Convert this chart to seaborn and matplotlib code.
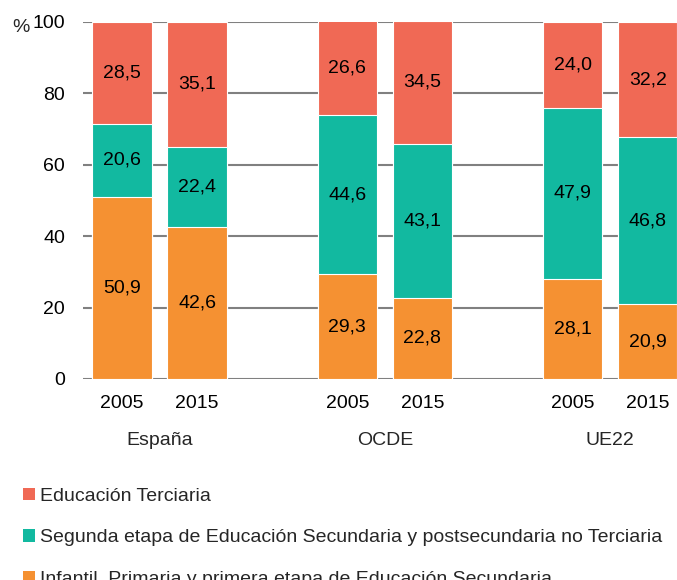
import pandas as pd
import matplotlib.pyplot as plt
import matplotlib.transforms as mtransforms
from matplotlib.patches import Patch
import seaborn as sns

regions = ['España', 'OCDE', 'UE22']
years = ['2005', '2015']
infantil = [50.9, 42.6, 29.3, 22.8, 28.1, 20.9]
segunda = [20.6, 22.4, 44.6, 43.1, 47.9, 46.8]
terciaria = [28.5, 35.1, 26.6, 34.5, 24.0, 32.2]

series_names = [
    'Educación Terciaria',
    'Segunda etapa de Educación Secundaria y postsecundaria no Terciaria',
    'Infantil, Primaria y primera etapa de Educación Secundaria',
]
c_ter = '#F06955'
c_seg = '#12B9A0'
c_inf = '#F59132'
fs = 14

# one row per bar; groups separated by an empty slot
df = pd.DataFrame({
    'region': [r for r in regions for _ in years],
    'year': years * len(regions),
    'infantil': infantil,
    'segunda': segunda,
    'terciaria': terciaria,
})
df['pos'] = [g * 3 + i for g in range(len(regions)) for i in range(len(years))]
df['cum_seg'] = df['infantil'] + df['segunda']
df['cum_ter'] = df['cum_seg'] + df['terciaria']

sns.set_theme(style='white')
plt.rcParams['font.family'] = ['Liberation Sans', 'DejaVu Sans']

fig = plt.figure(figsize=(6.77, 5.8), dpi=100)
ax = fig.add_axes([0.1226, 0.3466, 0.8774, 0.6155])

# stacked bars drawn back to front from cumulative totals
for col, color in [('cum_ter', c_ter), ('cum_seg', c_seg), ('infantil', c_inf)]:
    sns.barplot(data=df, x='pos', y=col, native_scale=True, color=color,
                saturation=1, width=0.79, errorbar=None, edgecolor='white',
                linewidth=0.8, ax=ax, zorder=2)

# segment labels
for _, row in df.iterrows():
    bottom = 0
    for col in ['infantil', 'segunda', 'terciaria']:
        val = row[col]
        ax.text(row['pos'], bottom + val / 2, f'{val:.1f}'.replace('.', ','),
                ha='center', va='center', fontsize=fs, color='black', zorder=3)
        bottom += val

ax.set_ylim(0, 100)
ax.set_xlim(-0.52, 7.39)
ax.set_yticks(range(0, 101, 20))
ax.set_xticks(df['pos'])
ax.set_xticklabels(df['year'])
ax.set_xlabel('')
ax.set_ylabel('')
ax.tick_params(axis='both', length=0, labelsize=fs, colors='black')
ax.tick_params(axis='y', pad=13)
ax.tick_params(axis='x', pad=11.5)
ax.yaxis.grid(True, color='#808080', linewidth=1.5)
ax.set_axisbelow(True)
sns.despine(ax=ax, left=True, bottom=True)

trans = mtransforms.blended_transform_factory(ax.transData, ax.transAxes)
for g, name in enumerate(regions):
    ax.text(g * 3 + 0.5, -0.172, name, transform=trans, ha='center',
            va='center', fontsize=fs)

fig.text(0.018, 0.952, '%', ha='left', va='center', fontsize=fs)

handles = [Patch(facecolor=c, edgecolor='none') for c in [c_ter, c_seg, c_inf]]
fig.legend(handles, series_names, loc='upper left',
           bbox_to_anchor=(0.034, 0.159), frameon=False, fontsize=fs,
           handlelength=0.6, handleheight=0.6, handletextpad=0.25,
           labelspacing=1.26, borderpad=0, borderaxespad=0)

fig.savefig('out.png', dpi=100)
